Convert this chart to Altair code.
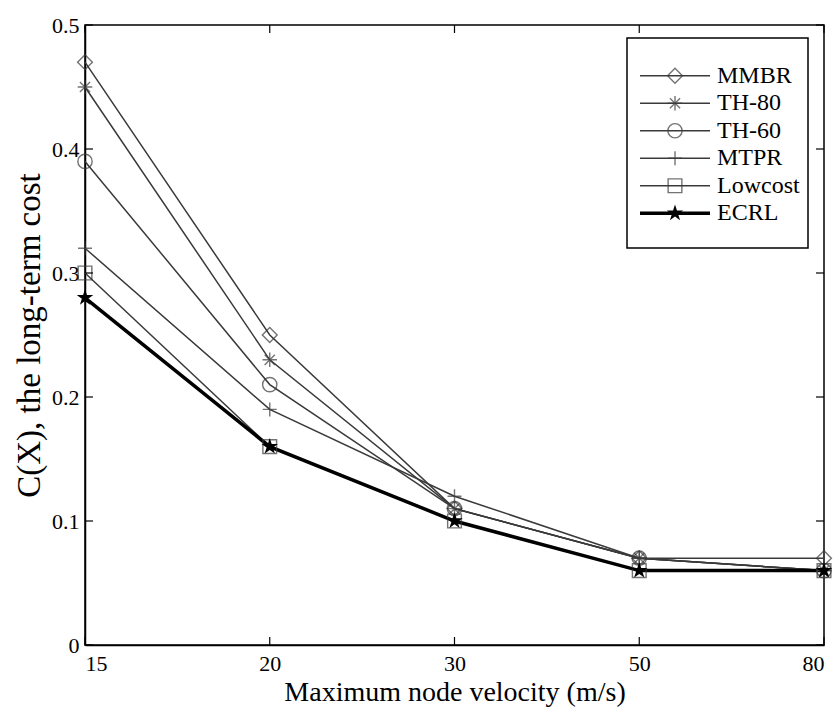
import altair as alt
import pandas as pd

# ---- data ----
velocity = ["15", "20", "30", "50", "80"]
series_names = ["MMBR", "TH-80", "TH-60", "MTPR", "Lowcost", "ECRL"]
mmbr = [0.47, 0.25, 0.11, 0.07, 0.07]
th80 = [0.45, 0.23, 0.11, 0.07, 0.06]
th60 = [0.39, 0.21, 0.11, 0.07, 0.06]
mtpr = [0.32, 0.19, 0.12, 0.07, 0.06]
lowcost = [0.30, 0.16, 0.10, 0.06, 0.06]
ecrl = [0.28, 0.16, 0.10, 0.06, 0.06]
y_ticks = [0, 0.1, 0.2, 0.3, 0.4, 0.5]

values = [mmbr, th80, th60, mtpr, lowcost, ecrl]
rows = []
for name, vals in zip(series_names, values):
    for v, c in zip(velocity, vals):
        rows.append({"series": name, "v": v, "cost": c})
df = pd.DataFrame(rows)
legend_df = pd.DataFrame({"series": series_names})
xt_df = pd.DataFrame({"v": velocity})
yt_df = pd.DataFrame({"cost": y_ticks})

# ---- styles ----
W, H = 739, 620
FONT = "Liberation Serif"
GRAY = "#3a3a3a"
diamond = "diamond"
asterisk = "M-1,0L1,0M0,-1L0,1M-0.7,-0.7L0.7,0.7M-0.7,0.7L0.7,-0.7"
circle = "circle"
plus = "M-1,0L1,0M0,-1L0,1"
square = "square"
star = ("M0,-1L0.225,-0.309L0.951,-0.309L0.363,0.118L0.588,0.809L0,0.382"
        "L-0.588,0.809L-0.363,0.118L-0.951,-0.309L-0.225,-0.309Z")
shapes = [diamond, asterisk, circle, plus, square, star]
colors = [GRAY] * 5 + ["black"]
sizes = [220, 180, 210, 240, 180, 300]

xscale = alt.Scale(type="point", padding=0, domain=velocity)
yscale = alt.Scale(domain=[0, 0.5], nice=False, zero=True)
xaxis = alt.Axis(title="Maximum node velocity (m/s)", labelAngle=0,
                 tickSize=0, labelPadding=8, titlePadding=4, grid=False,
                 labelFlush=True, titleFontSize=28)
yaxis = alt.Axis(title="C(X), the long-term cost", values=y_ticks,
                 format="~g", tickSize=0, labelPadding=6,
                 titlePadding=5, grid=False, titleFontSize=33)
X = alt.X("v:O", scale=xscale, sort=velocity, axis=xaxis)
Y = alt.Y("cost:Q", scale=yscale, axis=yaxis)

col = alt.Color("series:N", scale=alt.Scale(domain=series_names, range=colors), legend=None)
sw = alt.condition(alt.datum.series == "ECRL", alt.value(3.5), alt.value(1.5))
shp = alt.Shape("series:N", scale=alt.Scale(domain=series_names, range=shapes), legend=None)
sz = alt.Size("series:N", scale=alt.Scale(domain=series_names, range=sizes), legend=None)

base = alt.Chart(df)
lines = base.mark_line().encode(x=X, y=Y, color=col, strokeWidth=sw, detail="series:N")
pts_open = base.transform_filter(alt.datum.series != "ECRL").mark_point(
    filled=False, strokeWidth=1.4).encode(x=X, y=Y, shape=shp, color=col, size=sz)
pts_star = base.transform_filter(alt.datum.series == "ECRL").mark_point(
    filled=True, shape=star, size=300, color="black", opacity=1).encode(x=X, y=Y)

# inward ticks
TL = 8
xt = alt.Chart(xt_df)
xb = xt.mark_rule(color="black", strokeWidth=1.2).encode(
    x=X, y=alt.value(H), y2=alt.value(H - TL))
xtop = xt.mark_rule(color="black", strokeWidth=1.2).encode(
    x=X, y=alt.value(0), y2=alt.value(TL))
yt = alt.Chart(yt_df)
yl = yt.mark_rule(color="black", strokeWidth=1.2).encode(
    y=Y, x=alt.value(0), x2=alt.value(TL))
yr = yt.mark_rule(color="black", strokeWidth=1.2).encode(
    y=Y, x=alt.value(W), x2=alt.value(W - TL))

main = alt.layer(lines, pts_open, pts_star, xb, xtop, yl, yr)

# legend
lscale = alt.Scale(domain=series_names, range=[37, 202])
LY = alt.Y("series:N", scale=lscale, axis=None)
lg = alt.Chart(legend_df)
lbox = alt.Chart(pd.DataFrame({"a": [0]})).mark_rect(
    fill="white", stroke="black", strokeWidth=1.5).encode(
    x=alt.value(542), x2=alt.value(723), y=alt.value(13), y2=alt.value(223))
lline = lg.mark_rule().encode(
    y=LY, x=alt.value(555), x2=alt.value(625), color=col, strokeWidth=sw)
lpt_open = lg.transform_filter(alt.datum.series != "ECRL").mark_point(
    filled=False, strokeWidth=1.4).encode(
    y=LY, x=alt.value(590), shape=shp, color=col, size=sz)
lpt_star = lg.transform_filter(alt.datum.series == "ECRL").mark_point(
    filled=True, shape=star, size=300, color="black", opacity=1).encode(
    y=LY, x=alt.value(590))
ltext = lg.mark_text(align="left", baseline="middle", font=FONT,
                     fontSize=24, color="black").encode(
    y=LY, x=alt.value(632), text="series:N")
legend = alt.layer(lbox, lline, lpt_open, lpt_star, ltext)

chart = alt.layer(main, legend).resolve_scale(
    y="independent"
).properties(
    width=W, height=H,
    autosize=alt.AutoSizeParams(type="none"),
    padding={"left": 85, "top": 25, "right": 9, "bottom": 72},
    background="white",
).configure_view(
    stroke="black", strokeWidth=1.5
).configure_axis(
    labelFont=FONT, titleFont=FONT, labelFontSize=22,
    labelColor="black", titleColor="black", titleFontWeight="normal",
    domainColor="black", domainWidth=1.5, grid=False
)

chart.save("out.html", embed_options={"renderer": "svg", "actions": False})
